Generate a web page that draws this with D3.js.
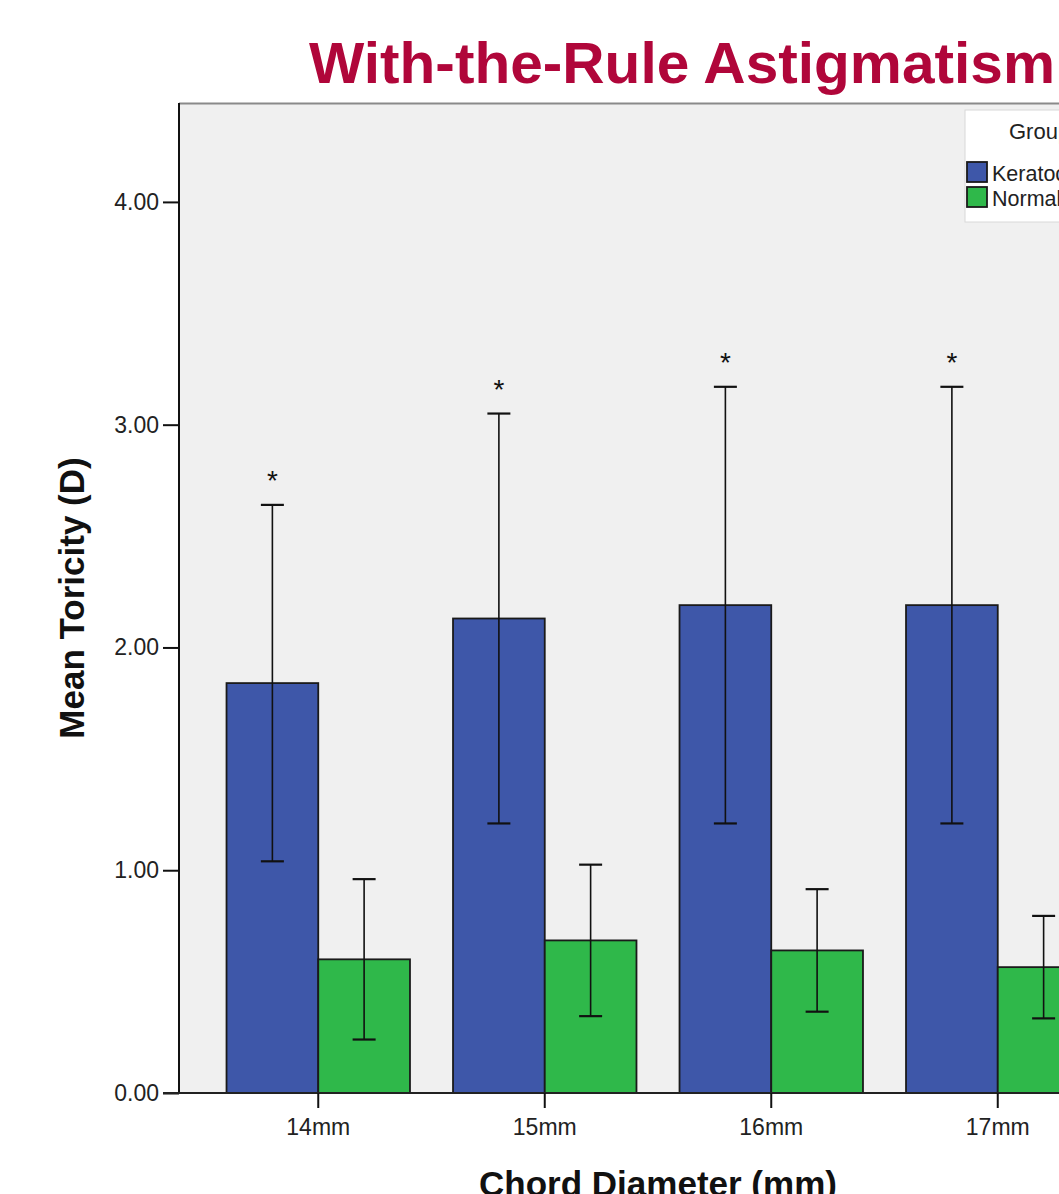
<!DOCTYPE html>
<html><head><meta charset="utf-8">
<script src="https://cdn.jsdelivr.net/npm/d3@7"></script>
<style>html,body{margin:0;padding:0;background:#fff;overflow:hidden;}</style>
</head><body>
<script>
const categories = ["14mm","15mm","16mm","17mm"];
const groups = ["Keratoconus","Normal"];
const keratoconusMean = [1.84, 2.13, 2.19, 2.19];
const keratoconusErr  = [0.80, 0.92, 0.98, 0.98];
const normalMean = [0.60, 0.685, 0.64, 0.565];
const normalErr  = [0.36, 0.34, 0.275, 0.23];
const significant = [true, true, true, true];
const yTicks = [0, 1, 2, 3, 4];
const colors = {"Keratoconus":"#3e57a9", "Normal":"#2fb84a"};

(function(){
const W = 1059, H = 1194;
const FONT = "'Liberation Sans', Arial, sans-serif";
const svg = d3.select("body").append("svg").attr("width", W).attr("height", H)
  .style("font-family", FONT);

const pLeft = 179, pTop = 103, pBottom = 1093, pRight = 1400;
const x = d3.scaleBand().domain(categories).range([205, 205 + 226.5*4]).paddingInner(0.19).paddingOuter(0.095);
const xs = d3.scaleBand().domain(groups).range([0, x.bandwidth()]);
const y = d3.scaleLinear().domain([0, 4.444]).range([pBottom, pTop]);

// plot background
svg.append("rect").attr("x", pLeft).attr("y", pTop).attr("width", pRight-pLeft).attr("height", pBottom-pTop).attr("fill", "#f0f0f0");
svg.append("line").attr("x1", pLeft).attr("x2", pRight).attr("y1", pTop+0.5).attr("y2", pTop+0.5).attr("stroke", "#8a8a8a").attr("stroke-width", 2);

const data = [];
categories.forEach((c,i) => {
  data.push({cat:c, g:"Keratoconus", v:keratoconusMean[i], e:keratoconusErr[i], sig:significant[i]});
  data.push({cat:c, g:"Normal", v:normalMean[i], e:normalErr[i], sig:false});
});

// bars
svg.append("g").selectAll("rect").data(data).join("rect")
  .attr("x", d => x(d.cat) + xs(d.g))
  .attr("y", d => y(d.v))
  .attr("width", xs.bandwidth())
  .attr("height", d => y(0) - y(d.v))
  .attr("fill", d => colors[d.g])
  .attr("stroke", "#1a1a1a").attr("stroke-width", 1.8);

// error bars
const eb = svg.append("g").attr("stroke", "#111").attr("stroke-width", 1.6);
data.forEach(d => {
  const cx = x(d.cat) + xs(d.g) + xs.bandwidth()/2;
  eb.append("line").attr("x1", cx).attr("x2", cx).attr("y1", y(d.v + d.e)).attr("y2", y(d.v - d.e));
  [d.v + d.e, d.v - d.e].forEach(val => {
    eb.append("line").attr("x1", cx-11.5).attr("x2", cx+11.5).attr("y1", y(val)).attr("y2", y(val)).attr("stroke-width", 2.2);
  });
  if (d.sig) {
    svg.append("text").attr("x", cx).attr("y", y(d.v + d.e) - 15).attr("text-anchor", "middle")
      .attr("font-size", 28).attr("fill", "#111").text("*");
  }
});

// y axis
const yAxis = d3.axisLeft(y).tickValues(yTicks).tickFormat(d3.format(".2f")).tickSize(16).tickPadding(4);
const gy = svg.append("g").attr("transform", `translate(${pLeft},0)`).call(yAxis);
gy.select(".domain").attr("stroke", "#111").attr("stroke-width", 2).attr("d", `M0,${pTop}V${pBottom}`);
gy.selectAll(".tick line").attr("stroke", "#111").attr("stroke-width", 2);
gy.selectAll(".tick text").attr("font-size", 23).attr("fill", "#222").style("font-family", FONT);

// x axis
const xAxis = d3.axisBottom(x).tickSize(15).tickPadding(11);
const gx = svg.append("g").attr("transform", `translate(0,${pBottom})`).call(xAxis);
gx.select(".domain").attr("stroke", "#222").attr("stroke-width", 2).attr("d", `M${pLeft-16},0H${pRight}`);
gx.selectAll(".tick line").attr("stroke", "#111").attr("stroke-width", 2);
gx.selectAll(".tick text").attr("font-size", 23).attr("fill", "#222").style("font-family", FONT);

// axis labels
svg.append("text").attr("transform", "translate(84,598) rotate(-90)").attr("text-anchor", "middle")
  .attr("font-size", 35).attr("font-weight", "bold").attr("fill", "#111").text("Mean Toricity (D)");
svg.append("text").attr("x", 658).attr("y", 1196).attr("text-anchor", "middle")
  .attr("font-size", 35).attr("font-weight", "bold").attr("fill", "#111").text("Chord Diameter (mm)");

// title
svg.append("text").attr("x", 309).attr("y", 83).attr("font-size", 58).attr("font-weight", "bold")
  .attr("fill", "#b0063a").attr("textLength", 746).attr("lengthAdjust", "spacingAndGlyphs").text("With-the-Rule Astigmatism");

// legend
const lg = svg.append("g").attr("transform", "translate(965,110)");
lg.append("rect").attr("x", 0).attr("y", 0).attr("width", 300).attr("height", 112).attr("fill", "#fff").attr("stroke", "#d8d8d8");
lg.append("text").attr("x", 44).attr("y", 29).attr("font-size", 22).attr("fill", "#222").text("Group");
groups.forEach((g,i) => {
  lg.append("rect").attr("x", 2).attr("y", 52 + i*25).attr("width", 20).attr("height", 20)
    .attr("fill", colors[g]).attr("stroke", "#1a1a1a").attr("stroke-width", 1.8);
  lg.append("text").attr("x", 27).attr("y", 71 + i*25).attr("font-size", 21.5).attr("fill", "#222").text(g);
});
})();
</script>
</body></html>
